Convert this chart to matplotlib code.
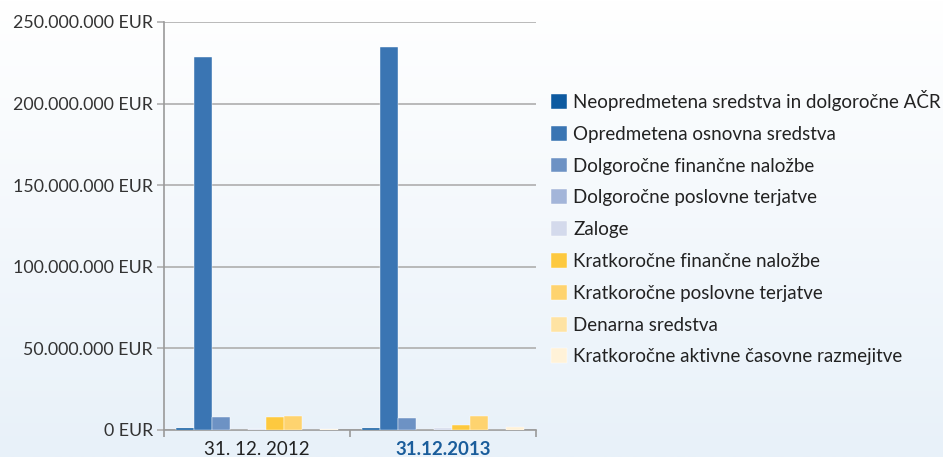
import numpy as np
import matplotlib.pyplot as plt
from matplotlib.ticker import FuncFormatter
from matplotlib.colors import LinearSegmentedColormap

plt.rcParams['font.family'] = ['Lato', 'DejaVu Sans']

datumi = ["31. 12. 2012", "31.12.2013"]
postavke = [
    "Neopredmetena sredstva in dolgoročne AČR",
    "Opredmetena osnovna sredstva",
    "Dolgoročne finančne naložbe",
    "Dolgoročne poslovne terjatve",
    "Zaloge",
    "Kratkoročne finančne naložbe",
    "Kratkoročne poslovne terjatve",
    "Denarna sredstva",
    "Kratkoročne aktivne časovne razmejitve",
]
# vrednosti v EUR (ocenjeno s slike)
vrednosti_2012 = [1.4e6, 228.6e6, 8.0e6, 0.1e6, 0.8e6, 8.0e6, 8.8e6, 0.1e6, 0.4e6]
vrednosti_2013 = [1.4e6, 234.8e6, 7.4e6, 0.1e6, 1.4e6, 2.9e6, 8.8e6, 0.1e6, 2.0e6]
barve = ["#0d5aa0", "#3a75b3", "#6d92c4", "#a3b5d9", "#d4daec",
         "#fdc93f", "#fed36f", "#fee3a3", "#fff2d8"]

fig = plt.figure(figsize=(9.43, 4.57), dpi=100)

# ozadje z gradientom
bg = fig.add_axes([0, 0, 1, 1], zorder=-10)
cmap = LinearSegmentedColormap.from_list("bg", ["#ffffff", "#e8f1f9"])
bg.imshow(np.linspace(0, 1, 256).reshape(-1, 1), aspect="auto", cmap=cmap,
          extent=[0, 1, 0, 1], origin="upper")
bg.axis("off")

ax = fig.add_axes([164 / 943, 27 / 457, 372 / 943, 408 / 457])
ax.patch.set_alpha(0)

n = len(postavke)
sirina = 0.87 / n
x = np.arange(len(datumi))
for i in range(n):
    vals = [vrednosti_2012[i], vrednosti_2013[i]]
    ax.bar(x - 0.435 + sirina * (i + 0.5), vals, width=sirina, color=barve[i],
           edgecolor="#ffffff", linewidth=0.3, label=postavke[i], zorder=3)

ax.set_xlim(-0.5, 1.5)
ax.set_ylim(0, 250e6)
ax.set_yticks(np.arange(0, 250e6 + 1, 50e6))
ax.yaxis.set_major_formatter(FuncFormatter(
    lambda v, p: "{:,.0f} EUR".format(v).replace(",", ".")))
ax.grid(axis="y", color="#b4b4b4", linewidth=1.3, zorder=1)
ax.set_axisbelow(True)

ax.set_xticks([-0.5, 0.5, 1.5], minor=False)
ax.set_xticklabels([])
ax.set_xticks(x, minor=True)
ax.set_xticklabels(datumi, minor=True)
ax.tick_params(axis="x", which="minor", length=0, labelsize=13.5, pad=8)
ax.tick_params(axis="x", which="major", length=5, color="#9a9a9a", width=1.2)
ax.tick_params(axis="y", length=5, color="#b4b4b4", width=1.3, labelsize=12.8, pad=3)
for lbl in ax.get_yticklabels():
    lbl.set_color("#333333")
lbls = ax.xaxis.get_minorticklabels()
lbls[0].set_color("#222222")
lbls[1].set_color("#1a5d9b")
lbls[1].set_fontweight("bold")

for s in ["top", "right"]:
    ax.spines[s].set_visible(False)
ax.spines["left"].set_color("#9a9a9a")
ax.spines["bottom"].set_color("#9a9a9a")
ax.spines["left"].set_linewidth(1.2)
ax.spines["bottom"].set_linewidth(1.2)

ax.legend(loc="center left", bbox_to_anchor=(1.04, 0.496), frameon=False,
          borderaxespad=0, borderpad=0,
          fontsize=13.5, handlelength=0.85, handleheight=0.85, handletextpad=0.35,
          labelspacing=0.79, labelcolor="#222222")

fig.savefig("out.png", dpi=100)
